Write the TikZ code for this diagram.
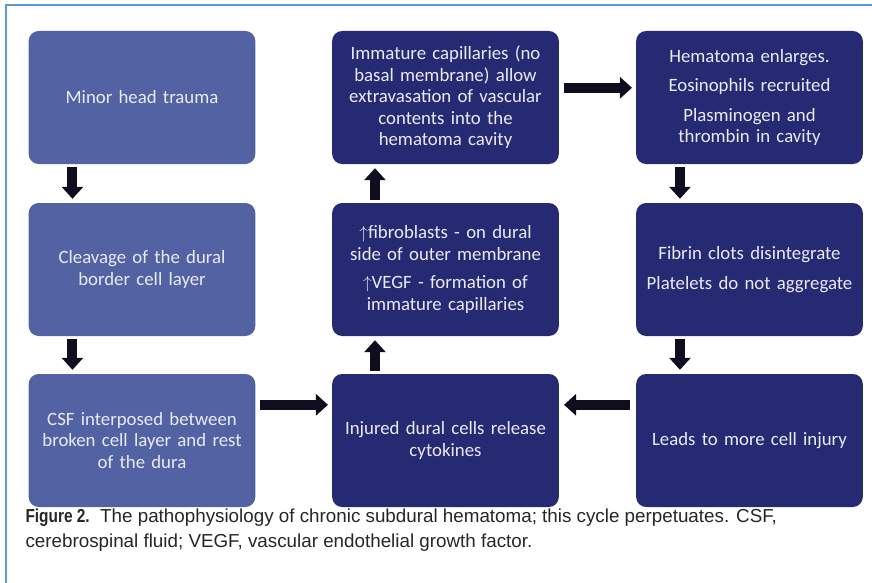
\documentclass[tikz,border=0pt]{standalone}
\usepackage{fontspec}
\setmainfont{Carlito}
\newfontfamily\capfont{Liberation Sans}
\newfontfamily\capbold[FakeStretch=0.82]{Liberation Sans Bold}
\usetikzlibrary{arrows.meta, calc}
\definecolor{clight}{HTML}{5262A3}
\definecolor{cdark}{HTML}{262A72}
\definecolor{carrow}{HTML}{0E0E1F}
\definecolor{cframe}{HTML}{5B9BD5}
\definecolor{ctext}{HTML}{E9EBF5}
\tikzset{
  every picture/.style={x=1pt, y=-1pt},
  box/.style={fill=#1, rounded corners=10pt, align=center, text=ctext,
    minimum width=224pt, minimum height=133pt, text width=220pt,
    font=\fontsize{18.8}{21.5}\selectfont},
  box/.default=cdark,
  blkarrow/.style={-{Triangle[length=12pt, width=21pt]}, draw=carrow, line width=10pt},
  caption/.style={font=\capfont\fontsize{18.8}{25}\selectfont, text=black!85, align=left, anchor=base west},
}
\begin{document}
\begin{tikzpicture}
  \useasboundingbox (0,0) rectangle (872,583);
  \draw[cframe, line width=2.5pt] (6,583) -- (6,5) -- (872,5);
  % left column
  \node[box=clight] (trauma) at (142,97.5) {Minor head trauma};
  \node[box=clight] (cleave) at (142,269.5) {Cleavage of the dural\\border cell layer};
  \node[box=clight] (csf) at (142,440.5) {CSF interposed between\\broken cell layer and rest\\of the dura};
  % middle column
  \node[box] (capil) at (445.5,97.5) {Immature capillaries (no\\basal membrane) allow\\extravasation of vascular\\contents into the\\hematoma cavity};
  \node[box] (vegf) at (445.5,269.5) {$\uparrow$fibroblasts - on dural\\side of outer membrane\\[7pt]$\uparrow$VEGF - formation of\\immature capillaries};
  \node[box] (injured) at (445.5,440.5) {Injured dural cells release\\cytokines};
  % right column
  \node[box] (enlarge) at (749.5,97.5) {Hematoma enlarges.\\[8pt]Eosinophils recruited\\[8pt]Plasminogen and\\thrombin in cavity};
  \node[box] (fibrin) at (749.5,269.5) {Fibrin clots disintegrate\\[8pt]Platelets do not aggregate};
  \node[box] (injury) at (749.5,440.5) {Leads to more cell injury};
  % connectors
  \draw[blkarrow] ([xshift=44pt,yshift=-3pt]trauma.south west) -- ([xshift=44pt,yshift=4pt]cleave.north west);
  \draw[blkarrow] ([xshift=44pt,yshift=-3pt]cleave.south west) -- ([xshift=44pt,yshift=4pt]csf.north west);
  \draw[blkarrow] ([xshift=4pt,yshift=-31pt]csf.north east) -- ([xshift=-4pt,yshift=-31pt]injured.north west);
  \draw[blkarrow] ([xshift=43pt,yshift=3pt]injured.north west) -- ([xshift=43pt,yshift=-4pt]vegf.south west);
  \draw[blkarrow] ([xshift=43pt,yshift=3pt]vegf.north west) -- ([xshift=43pt,yshift=-4pt]capil.south west);
  \draw[blkarrow] ([xshift=5pt,yshift=-57pt]capil.north east) -- ([xshift=-4pt,yshift=-57pt]enlarge.north west);
  \draw[blkarrow] ([xshift=44pt,yshift=-3pt]enlarge.south west) -- ([xshift=44pt,yshift=4pt]fibrin.north west);
  \draw[blkarrow] ([xshift=44pt,yshift=-3pt]fibrin.south west) -- ([xshift=44pt,yshift=4pt]injury.north west);
  \draw[blkarrow] ([xshift=-6pt,yshift=-31pt]injury.north west) -- ([xshift=5pt,yshift=-31pt]injured.north east);
  % caption
  \node[caption] (cap) at (22,547) {{\capbold Figure 2.}\ \ The pathophysiology of chronic subdural hematoma; this cycle perpetuates. CSF,\\cerebrospinal fluid; VEGF, vascular endothelial growth factor.};
\end{tikzpicture}
\end{document}
